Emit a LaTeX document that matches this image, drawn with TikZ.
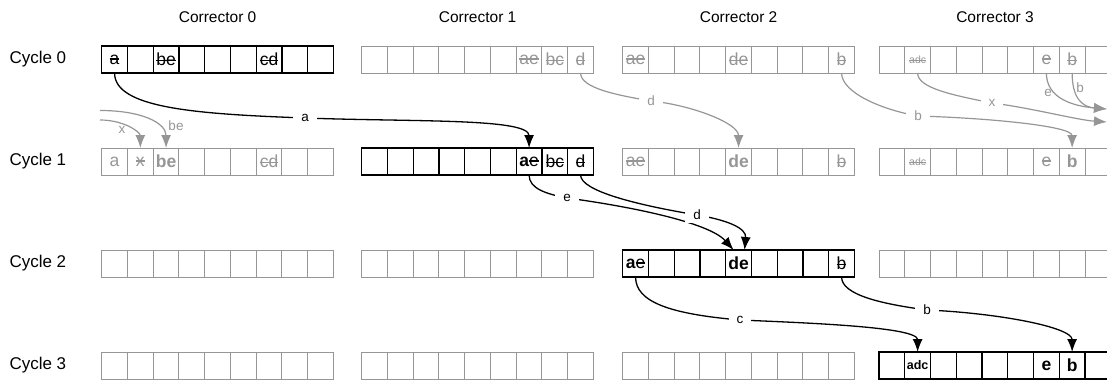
\documentclass[tikz,border=0pt]{standalone}
\usepackage{fontspec}
\setmainfont{Liberation Sans}
\usetikzlibrary{arrows.meta}
\definecolor{dim}{RGB}{150,150,150}
\newcommand\xs[1]{\setbox0=\hbox{#1}\rlap{\rule[0.26em]{\wd0}{0.065em}}\box0}
\tikzset{
  cellbox/.style={draw, minimum width=25.75pt, minimum height=27pt, inner sep=0pt, outer sep=0pt},
  onbox/.style={cellbox, draw=black, line width=1.3pt},
  offbox/.style={cellbox, draw=dim, line width=1pt},
  ink/.style={inner sep=0pt, font=\fontsize{17.5}{19}\selectfont, text=black},
  dimink/.style={ink, text=dim},
  small/.style={font=\fontsize{10.5}{12}\selectfont},
  smallbold/.style={font=\fontsize{12.5}{14}\selectfont},
  head/.style={font=\fontsize{15.5}{18}\selectfont},
  rowhead/.style={font=\fontsize{17}{19}\selectfont},
  flow/.style={-{Latex[length=13pt,width=10pt]}, line width=1.3pt, draw=black},
  dimflow/.style={flow, line width=1.2pt, draw=dim},
  lab/.style={fill=white, inner xsep=8pt, inner ysep=3pt, font=\fontsize{13.5}{15}\selectfont, text=black},
  dimlab/.style={lab, text=dim},
  offlab/.style={inner sep=0pt, font=\fontsize{13.5}{15}\selectfont, text=dim},
}
\begin{document}
\begin{tikzpicture}[x=1pt,y=-1pt]
\useasboundingbox (0,0) rectangle (1107,383);
\clip (0,0) rectangle (1107,383);
% headers
\foreach \c/\cx in {0/217.6,1/477.6,2/738.6,3/995}
  \node[head] (hd\c) at (\cx,17) {Corrector \c};
% rows and cells
\foreach \k/\ky in {0/46,1/148,2/250,3/352}{
  \node[rowhead, anchor=west] (cy\k) at (6,{\ky+13.5}) {Cycle \k};
  \foreach \c/\cx in {0/101.7,1/361.7,2/622.7,3/879}{
    \ifnum\k=\c \def\boxstyle{onbox}\else\def\boxstyle{offbox}\fi
    \foreach \i in {0,...,8}
      \node[\boxstyle] (k\k c\c-\i) at ({\cx+\i*25.75+12.875},{\ky+13.5}) {};
  }
}
% cell contents, cycle 0
\node[ink] (t000) at (k0c0-0) {\xs{a}};
\node[ink] (t002) at (k0c0-2) {\xs{be}};
\node[ink] (t006) at (k0c0-6) {\xs{cd}};
\node[dimink] (t016) at (k0c1-6) {\xs{ae}};
\node[dimink] (t017) at (k0c1-7) {\xs{bc}};
\node[dimink] (t018) at (k0c1-8) {\xs{d}};
\node[dimink] (t020) at (k0c2-0) {\xs{ae}};
\node[dimink] (t024) at (k0c2-4) {\xs{de}};
\node[dimink] (t028) at (k0c2-8) {\xs{b}};
\node[dimink, small] (t031) at (k0c3-1) {\xs{adc}};
\node[dimink] (t036) at (k0c3-6) {\xs{e}};
\node[dimink] (t037) at (k0c3-7) {\xs{b}};
% cycle 1
\node[dimink] (t100) at (k1c0-0) {a};
\node[dimink] (t101) at (k1c0-1) {\xs{x}};
\node[dimink] (t102) at (k1c0-2) {\textbf{be}};
\node[dimink] (t106) at (k1c0-6) {\xs{cd}};
\node[ink] (t116) at (k1c1-6) {\textbf{a}\xs{e}};
\node[ink] (t117) at (k1c1-7) {\xs{bc}};
\node[ink] (t118) at (k1c1-8) {\xs{d}};
\node[dimink] (t120) at (k1c2-0) {\xs{ae}};
\node[dimink] (t124) at (k1c2-4) {\textbf{de}};
\node[dimink] (t128) at (k1c2-8) {\xs{b}};
\node[dimink, small] (t131) at (k1c3-1) {\xs{adc}};
\node[dimink] (t136) at (k1c3-6) {\xs{e}};
\node[dimink] (t137) at (k1c3-7) {\textbf{b}};
% cycle 2
\node[ink] (t220) at (k2c2-0) {\textbf{a}\xs{e}};
\node[ink] (t224) at (k2c2-4) {\textbf{de}};
\node[ink] (t228) at (k2c2-8) {\xs{b}};
% cycle 3
\node[ink, smallbold] (t331) at (k3c3-1) {\textbf{adc}};
\node[ink] (t336) at (k3c3-6) {\textbf{e}};
\node[ink] (t337) at (k3c3-7) {\textbf{b}};
% free ends
\coordinate (inbe) at (100,110.5);
\coordinate (inx) at (100,120);
\coordinate (outeb) at (1107,109);
\coordinate (outx) at (1107,122);
% gray connectors
\draw[dimflow] (inbe) .. controls +(42,0) and +(0,-25) .. (k1c0-2.north);
\draw[dimflow] (inx) .. controls +(24,0) and +(0,-16) .. (k1c0-1.north);
\node[offlab] (lbe) at (176,126) {be};
\node[offlab] (lx) at (122,130) {x};
\draw[dimflow] (k0c1-8.south) .. controls +(0,15) and +(-35,-6) .. (651,101) node[dimlab] (ld0) {d}
   .. controls +(40,4) and +(0,-25) .. (k1c2-4.north);
\draw[dimflow] (k0c2-8.south) .. controls +(0,20) and +(-35,-6) .. (918,116) node[dimlab] (lb0) {b}
   .. controls +(70,2) and +(0,-22) .. (k1c3-7.north);
\draw[dimflow] (k0c3-1.south) .. controls +(0,15) and +(-40,-8) .. (992,103) node[dimlab] (lx3) {x}
   .. controls +(40,5) and +(-30,-2) .. (outx);
\draw[dimflow] (k0c3-6.south) .. controls +(0,25) and +(-35,-3) .. (outeb);
\draw[dimflow] (k0c3-7.south) .. controls +(0,25) and +(-25,-2) .. (outeb);
\node[offlab] (le3) at (1048,93) {e};
\node[offlab] (lb3) at (1080,88) {b};
% black connectors
\draw[flow] (k0c0-0.south) .. controls +(0,35) and +(-110,-4) .. (305,118) node[lab] (la) {a}
   .. controls +(110,4) and +(0,-30) .. (k1c1-6.north);
\draw[flow] (k1c1-6.south) .. controls +(0,14) and +(-20,-4) .. (567,198) node[lab] (le) {e}
   .. controls +(60,8) and +(-25,-28) .. ([xshift=-5pt]k2c2-4.north);
\draw[flow] (k1c1-8.south) .. controls +(0,16) and +(-60,-10) .. (697,215) node[lab] (ld) {d}
   .. controls +(30,5) and +(2,-22) .. ([xshift=6pt]k2c2-4.north);
\draw[flow] (k2c2-0.south) .. controls +(0,25) and +(-70,-6) .. (740,320) node[lab] (lc) {c}
   .. controls +(70,3) and +(0,-25) .. (k3c3-1.north);
\draw[flow] (k2c2-8.south) .. controls +(0,18) and +(-45,-6) .. (927,310) node[lab] (lb) {b}
   .. controls +(70,3) and +(0,-25) .. (k3c3-7.north);
\end{tikzpicture}
\end{document}
